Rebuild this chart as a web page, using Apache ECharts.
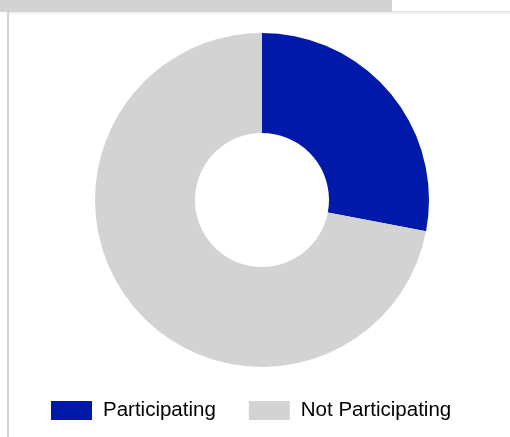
<!DOCTYPE html>
<html><head><meta charset="utf-8">
<script src="https://cdn.jsdelivr.net/npm/echarts@6/dist/echarts.min.js"></script>
<style>html,body{margin:0;padding:0;background:#fff}#c{width:510px;height:437px}</style>
</head><body><div id="c"></div>
<script>
var categories = ['Participating', 'Not Participating'];
var values = [28, 72];
var colors = ['#0019a8', '#d3d3d3'];

var chart = echarts.init(document.getElementById('c'), null, {renderer: 'canvas'});
chart.setOption({
  animation: false,
  graphic: [
    {type: 'rect', shape: {x: 0, y: 0, width: 392, height: 12}, style: {fill: '#d3d3d3'}},
    {type: 'rect', shape: {x: 392, y: 11, width: 118, height: 2}, style: {fill: '#e4e4e4'}},
    {type: 'rect', shape: {x: 8, y: 12, width: 502, height: 2}, style: {fill: '#f0f0f0'}},
    {type: 'rect', shape: {x: 7, y: 12, width: 2, height: 425}, style: {fill: '#d3d3d3'}}
  ],
  legend: {
    left: 51, top: 400, padding: 0,
    itemWidth: 41, itemHeight: 19, itemGap: 33,
    icon: 'rect',
    textStyle: {fontFamily: 'Liberation Sans, Arial, sans-serif', fontSize: 20.5, color: '#000', padding: [0,0,0,6]},
    data: categories
  },
  series: [{
    type: 'pie',
    center: [262, 200],
    radius: [67, 167],
    startAngle: 90,
    clockwise: true,
    label: {show: false},
    labelLine: {show: false},
    emphasis: {disabled: true},
    itemStyle: {borderWidth: 0},
    data: categories.map(function (c, i) { return {name: c, value: values[i], itemStyle: {color: colors[i]}}; })
  }]
});
</script></body></html>
